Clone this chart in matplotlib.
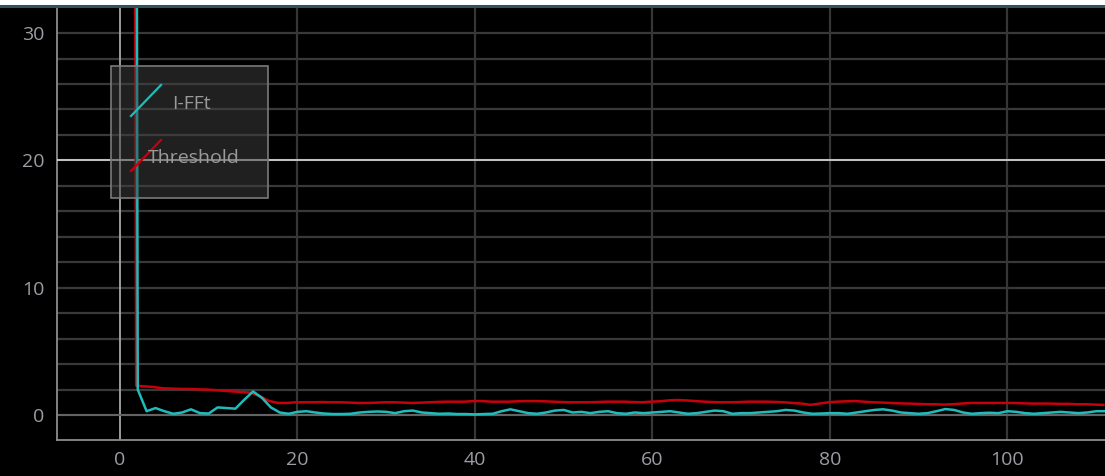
import numpy as np
import matplotlib
matplotlib.use("Agg")
import matplotlib.pyplot as plt
import matplotlib.transforms as mtransforms
from matplotlib.patches import Rectangle
from matplotlib.lines import Line2D

plt.rcParams['font.family'] = ['Open Sans', 'DejaVu Sans']

# Frequency bins
freq = np.arange(1, 112)

# Inverse-FFT magnitude per bin
ifft_vals = [
    320, 2.0, 0.3, 0.55, 0.3, 0.1, 0.2, 0.45, 0.15, 0.12,
    0.6, 0.55, 0.5, 1.2, 1.85, 1.35, 0.6, 0.2, 0.1, 0.25,
    0.3, 0.2, 0.12, 0.08, 0.08, 0.1, 0.2, 0.25, 0.28, 0.25,
    0.15, 0.3, 0.35, 0.2, 0.15, 0.1, 0.12, 0.08, 0.08, 0.05,
    0.08, 0.1, 0.3, 0.45, 0.3, 0.15, 0.1, 0.2, 0.35, 0.4,
    0.2, 0.25, 0.15, 0.25, 0.3, 0.15, 0.1, 0.2, 0.15, 0.2,
    0.25, 0.3, 0.2, 0.1, 0.15, 0.25, 0.35, 0.3, 0.1, 0.15,
    0.15, 0.2, 0.25, 0.3, 0.4, 0.35, 0.2, 0.1, 0.12, 0.15,
    0.15, 0.1, 0.2, 0.3, 0.4, 0.45, 0.35, 0.2, 0.15, 0.1,
    0.15, 0.3, 0.47, 0.4, 0.2, 0.1, 0.15, 0.18, 0.15, 0.3,
    0.25, 0.15, 0.1, 0.15, 0.2, 0.25, 0.2, 0.15, 0.2, 0.3,
    0.3,
]

# Detection threshold per bin
threshold_vals = [
    320, 2.3, 2.25, 2.2, 2.1, 2.08, 2.05, 2.05, 2.02, 2.0,
    1.95, 1.9, 1.85, 1.8, 1.75, 1.45, 1.1, 0.95, 0.95, 1.0,
    1.0, 1.0, 1.02, 1.0, 1.0, 0.98, 0.95, 0.95, 0.97, 1.0,
    1.0, 0.98, 0.95, 0.97, 1.0, 1.03, 1.05, 1.05, 1.05, 1.1,
    1.1, 1.05, 1.05, 1.05, 1.08, 1.1, 1.1, 1.08, 1.05, 1.02,
    1.0, 1.0, 1.0, 1.02, 1.05, 1.05, 1.05, 1.02, 1.0, 1.05,
    1.08, 1.15, 1.18, 1.15, 1.1, 1.05, 1.02, 1.0, 1.0, 1.02,
    1.05, 1.05, 1.05, 1.03, 1.0, 0.95, 0.9, 0.8, 0.9, 1.0,
    1.05, 1.08, 1.1, 1.05, 1.0, 0.98, 0.95, 0.92, 0.9, 0.88,
    0.85, 0.85, 0.82, 0.85, 0.9, 0.95, 0.95, 0.95, 0.95, 0.95,
    0.95, 0.92, 0.9, 0.9, 0.9, 0.88, 0.88, 0.85, 0.85, 0.82,
    0.8,
]

x_ticks = [0, 20, 40, 60, 80, 100]
y_ticks = [0, 10, 20, 30]
series_labels = ["I-FFt", "Threshold"]

W, H = 1105, 476
fig = plt.figure(figsize=(W / 100, H / 100), dpi=100, facecolor="black")

# window title strip along the top edge
fig.patches.append(Rectangle((0, 1 - 4.5 / H), 1, 4.5 / H, transform=fig.transFigure,
                             facecolor="white", edgecolor="none", zorder=0))
fig.add_artist(Line2D([0, 1], [1 - 6 / H, 1 - 6 / H], transform=fig.transFigure,
                      color="#33505c", lw=2.2))

ax = fig.add_axes([57 / W, 36 / H, (W - 57) / W, (440 - 8) / H])
ax.set_facecolor("black")
ax.set_xlim(-7.1, 111.0)
ax.set_ylim(-1.96, 31.97)

# grid
for yv in np.arange(0, 32, 2):
    ax.axhline(yv, color="#393939", lw=1.6, zorder=1)
for xv in x_ticks[1:]:
    ax.axvline(xv, color="#363636", lw=1.6, zorder=1)
ax.axvline(0, color="#a8a8a8", lw=1.3, zorder=2)
ax.axhline(0, color="#666666", lw=1.4, zorder=2)
ax.axhline(20, color="#dcdcdc", lw=1.2, zorder=4)

ax.set_xticks(x_ticks)
ax.set_yticks(y_ticks)
ax.tick_params(length=0, colors="#9c9ca4", labelsize=14)
ax.tick_params(axis="y", pad=9)
ax.tick_params(axis="x", pad=8)
for s in ["top", "right"]:
    ax.spines[s].set_visible(False)
for s in ["left", "bottom"]:
    ax.spines[s].set_color("#8c8c8c")
    ax.spines[s].set_linewidth(1.3)

# threshold trace nudged a pixel left so both traces stay visible on the spike
nudge = mtransforms.ScaledTranslation(-1.6 / 100, 0, fig.dpi_scale_trans)
ax.plot(freq, threshold_vals, color="#c8000c", lw=1.8, zorder=5,
        transform=ax.transData + nudge)
ax.plot(freq, ifft_vals, color="#1fbcbc", lw=1.8, zorder=6)


def fx(px):
    return px / W


def fy(py):
    return 1 - py / H


# legend box
fig.add_artist(Rectangle((fx(111), fy(198)), fx(268) - fx(111), fy(66) - fy(198),
                         transform=fig.transFigure, facecolor=(0.25, 0.25, 0.25, 0.5),
                         edgecolor="#7a7a7a", lw=1.2, zorder=3))
fig.add_artist(Line2D([fx(131), fx(161)], [fy(116), fy(85)], transform=fig.transFigure,
                      color="#1fbcbc", lw=1.6, zorder=7))
fig.add_artist(Line2D([fx(131), fx(161)], [fy(171), fy(140)], transform=fig.transFigure,
                      color="#c8000c", lw=1.6, zorder=7))
fig.text(fx(172), fy(104), series_labels[0], color="#9a9a9a", fontsize=14,
         va="center", ha="left", zorder=8)
fig.text(fx(148), fy(158), series_labels[1], color="#9a9a9a", fontsize=14,
         va="center", ha="left", zorder=8)

fig.savefig("out.png", dpi=100, facecolor="black")
